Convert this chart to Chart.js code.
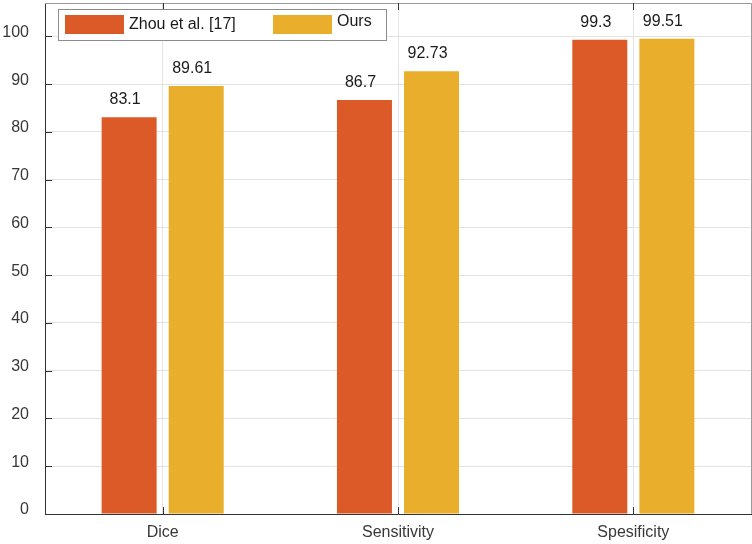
<!DOCTYPE html>
<html>
<head>
<meta charset="utf-8">
<script src="https://cdn.jsdelivr.net/npm/chart.js@4"></script>
<style>
  html, body { margin: 0; padding: 0; background: #fff; }
  #wrap { width: 752px; height: 544px; }
</style>
</head>
<body>
<div id="wrap"><canvas id="myChart" width="752" height="544"></canvas></div>
<script>
const categories = ['Dice', 'Sensitivity', 'Spesificity'];
const seriesNames = ['Zhou et al. [17]', 'Ours'];
const zhou = [83.1, 86.7, 99.3];
const ours = [89.61, 92.73, 99.51];
const colors = ['#DC5A27', '#E9AE2B'];

const font = { family: '"Liberation Sans", Arial, Helvetica, sans-serif', size: 16 };

// value labels, legend box and frame
const extras = {
    id: 'extras',
    afterDatasetsDraw(chart) {
        const ctx = chart.ctx;
        const area = chart.chartArea;
        ctx.save();
        // bar labels
        ctx.font = '16px ' + font.family;
        ctx.fillStyle = '#1a1a1a';
        ctx.textAlign = 'center';
        ctx.textBaseline = 'alphabetic';
        chart.data.datasets.forEach((ds, i) => {
            chart.getDatasetMeta(i).data.forEach((bar, j) => {
                ctx.fillText(String(ds.data[j]), bar.x - 4, bar.y - 13);
            });
        });

        // frame: top and right border
        ctx.strokeStyle = '#9a9a9a';
        ctx.lineWidth = 1;
        ctx.beginPath();
        ctx.moveTo(area.left, area.top + 0.5);
        ctx.lineTo(area.right + 0.5, area.top + 0.5);
        ctx.lineTo(area.right + 0.5, area.bottom);
        ctx.stroke();

        // inward tick marks
        ctx.strokeStyle = '#333';
        const y = chart.scales.y, x = chart.scales.x;
        ctx.beginPath();
        y.ticks.forEach(t => {
            const py = Math.round(y.getPixelForValue(t.value)) + 0.5;
            ctx.moveTo(area.left, py);
            ctx.lineTo(area.left + 7, py);
        });
        categories.forEach((c, i) => {
            const px = Math.round(x.getPixelForValue(i)) + 0.5;
            ctx.moveTo(px, area.bottom);
            ctx.lineTo(px, area.bottom - 7);
            ctx.moveTo(px, area.top);
            ctx.lineTo(px, area.top + 7);
        });
        ctx.stroke();

        // legend box
        const lx = area.left + 13, ly = area.top + 6;
        ctx.fillStyle = '#fff';
        ctx.fillRect(lx, ly, 328, 31);
        ctx.strokeStyle = '#8c8c8c';
        ctx.strokeRect(lx + 0.5, ly + 0.5, 328, 31);
        const items = [
            { sx: lx + 7, tx: lx + 71, ty: ly + 16 },
            { sx: lx + 215, tx: lx + 279, ty: ly + 13 }
        ];
        ctx.textAlign = 'left';
        ctx.textBaseline = 'middle';
        items.forEach((it, i) => {
            ctx.fillStyle = colors[i];
            ctx.fillRect(it.sx, ly + 6, 59, 19);
            ctx.fillStyle = '#1a1a1a';
            ctx.fillText(seriesNames[i], it.tx, it.ty);
        });
        ctx.restore();
    }
};

new Chart(document.getElementById('myChart'), {
    type: 'bar',
    data: {
        labels: categories,
        datasets: [
            { label: seriesNames[0], data: zhou, backgroundColor: colors[0] },
            { label: seriesNames[1], data: ours, backgroundColor: colors[1] }
        ]
    },
    options: {
        responsive: false,
        animation: false,
        devicePixelRatio: 1,
        categoryPercentage: 0.57,
        barPercentage: 0.82,
        layout: { padding: { top: 3, right: 1, left: 0, bottom: 0 } },
        plugins: {
            legend: { display: false },
            tooltip: { enabled: false }
        },
        scales: {
            x: {
                offset: true,
                grid: { offset: false, color: '#e3e3e3', drawTicks: false },
                border: { color: '#333', width: 1 },
                ticks: { font: font, color: '#383838', padding: 9 },
                afterFit(s) { s.height = 30; s.paddingLeft = 0; s.paddingRight = 0; }
            },
            y: {
                min: 0,
                max: 107,
                grid: { color: '#e3e3e3', drawTicks: false },
                border: { color: '#333', width: 1 },
                ticks: { stepSize: 10, includeBounds: false, font: font, color: '#383838', padding: 16, labelOffset: -4 },
                afterFit(s) { s.width = 45; s.paddingTop = 0; s.paddingBottom = 0; }
            }
        }
    },
    plugins: [extras]
});
</script>
</body>
</html>
